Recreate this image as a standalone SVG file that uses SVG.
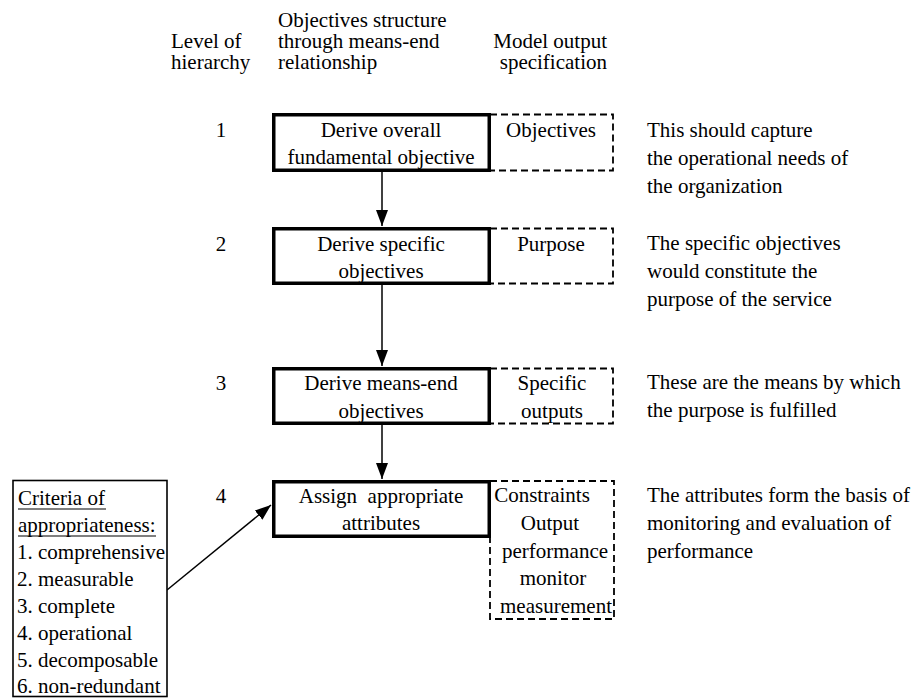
<svg xmlns="http://www.w3.org/2000/svg" width="917" height="698" viewBox="0 0 917 698">
  <style>
    .c { text-anchor: middle; }
    .e { text-anchor: end; }
    .step { fill: #fff; stroke: #000; stroke-width: 3.5; }
    .spec { fill: none; stroke: #000; stroke-width: 1.8; stroke-dasharray: 7 4; }
    .crit { fill: #fff; stroke: #000; stroke-width: 1.6; }
    .link { fill: none; stroke: #000; stroke-width: 1.5; }
    .ul { stroke: #000; stroke-width: 1.2; }
  </style>
  <defs>
    <marker id="arrow" viewBox="0 0 16 12" refX="16" refY="6" markerWidth="16" markerHeight="12" markerUnits="userSpaceOnUse" orient="auto">
      <path d="M0,0 L16,6 L0,12 Z" fill="#000"/>
    </marker>
  </defs>

  <rect width="917" height="698" fill="#fff"/>

  <g font-family="Liberation Serif, Times New Roman, serif" font-size="21" fill="#000">
    <!-- column headings -->
    <g id="headings">
      <text x="171" y="48">Level of</text>
      <text x="171" y="69">hierarchy</text>
      <text x="278" y="27">Objectives structure</text>
      <text x="278" y="48">through means-end</text>
      <text x="278" y="69">relationship</text>
      <text x="607" y="48" class="e">Model output</text>
      <text x="607" y="69" class="e">specification</text>
    </g>

    <!-- hierarchy level numbers -->
    <g id="levels">
      <text x="221" y="137" class="c">1</text>
      <text x="221" y="251" class="c">2</text>
      <text x="221" y="390" class="c">3</text>
      <text x="221" y="503" class="c">4</text>
    </g>

    <!-- connectors -->
    <g id="connectors">
      <line class="link" x1="382" y1="172" x2="382" y2="226" marker-end="url(#arrow)"/>
      <line class="link" x1="382" y1="285" x2="382" y2="366" marker-end="url(#arrow)"/>
      <line class="link" x1="382" y1="425" x2="382" y2="479" marker-end="url(#arrow)"/>
      <line class="link" x1="167" y1="590" x2="271" y2="505" marker-end="url(#arrow)"/>
    </g>

    <!-- level 1 -->
    <g id="level1">
      <rect class="spec" x="490" y="114.5" width="123" height="56"/>
      <rect class="step" x="273.75" y="114.75" width="215.5" height="55.5"/>
      <text x="381" y="137" class="c">Derive overall</text>
      <text x="381" y="164" class="c">fundamental objective</text>
      <text x="551" y="137" class="c">Objectives</text>
      <text x="647" y="137">This should capture</text>
      <text x="647" y="165">the operational needs of</text>
      <text x="647" y="193">the organization</text>
    </g>

    <!-- level 2 -->
    <g id="level2">
      <rect class="spec" x="490" y="228.5" width="123" height="55"/>
      <rect class="step" x="273.75" y="228.75" width="215.5" height="54.5"/>
      <text x="381" y="251" class="c">Derive specific</text>
      <text x="381" y="278" class="c">objectives</text>
      <text x="551" y="251" class="c">Purpose</text>
      <text x="647" y="250">The specific objectives</text>
      <text x="647" y="278">would constitute the</text>
      <text x="647" y="306">purpose of the service</text>
    </g>

    <!-- level 3 -->
    <g id="level3">
      <rect class="spec" x="490" y="368.5" width="123" height="55"/>
      <rect class="step" x="273.75" y="368.75" width="215.5" height="54.5"/>
      <text x="381" y="390" class="c">Derive means-end</text>
      <text x="381" y="418" class="c">objectives</text>
      <text x="552" y="390" class="c">Specific</text>
      <text x="552" y="418" class="c">outputs</text>
      <text x="647" y="389">These are the means by which</text>
      <text x="647" y="417">the purpose is fulfilled</text>
    </g>

    <!-- level 4 -->
    <g id="level4">
      <rect class="spec" x="490" y="481" width="124" height="138"/>
      <rect class="step" x="273.75" y="481.75" width="215.5" height="54.5"/>
      <text x="381" y="503" class="c" xml:space="preserve">Assign  appropriate</text>
      <text x="381" y="530" class="c">attributes</text>
      <text x="542" y="502" class="c">Constraints</text>
      <text x="550" y="530" class="c">Output</text>
      <text x="555" y="558" class="c">performance</text>
      <text x="553" y="585" class="c">monitor</text>
      <text x="556" y="613" class="c">measurement</text>
      <text x="647" y="502">The attributes form the basis of</text>
      <text x="647" y="530">monitoring and evaluation of</text>
      <text x="647" y="558">performance</text>
    </g>

    <!-- criteria box -->
    <g id="criteria">
      <rect class="crit" x="13" y="480.5" width="154" height="216"/>
      <text x="18" y="505">Criteria of</text>
      <line class="ul" x1="18" y1="509" x2="106" y2="509"/>
      <text x="18" y="532">appropriateness:</text>
      <line class="ul" x1="18" y1="536" x2="156" y2="536"/>
      <text x="17" y="559">1. comprehensive</text>
      <text x="17" y="586">2. measurable</text>
      <text x="17" y="613">3. complete</text>
      <text x="17" y="640">4. operational</text>
      <text x="17" y="667">5. decomposable</text>
      <text x="17" y="693">6. non-redundant</text>
    </g>
  </g>
</svg>
